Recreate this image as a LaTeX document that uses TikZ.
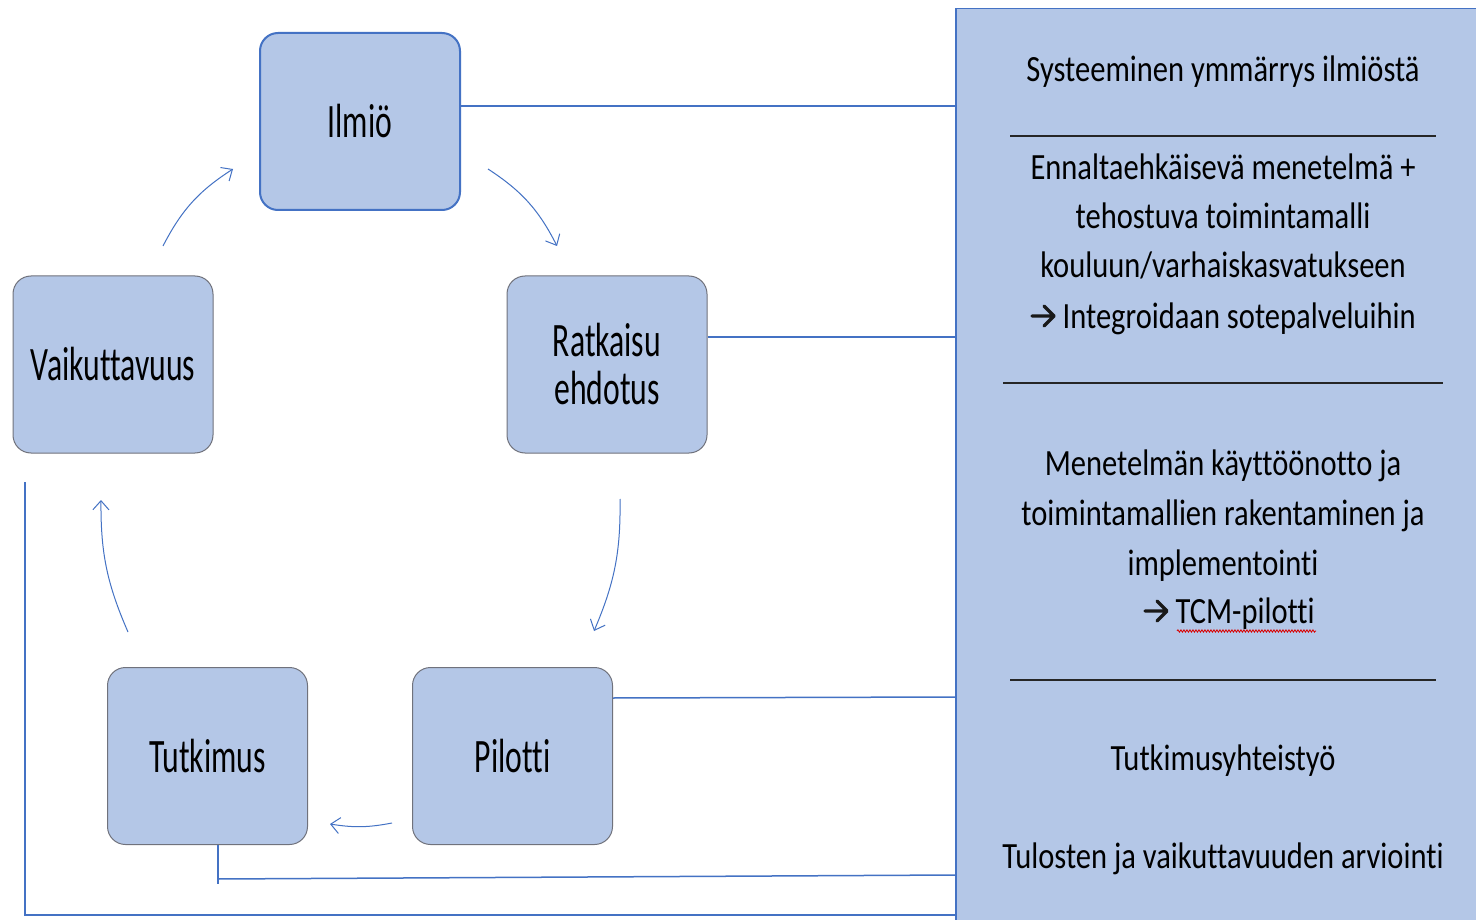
\documentclass[tikz,border=0pt]{standalone}
\usepackage{fontspec}
\setmainfont{Carlito}
\newfontfamily\boxf[FakeStretch=0.66,Ligatures=NoCommon]{Carlito}
\newfontfamily\panelf[FakeStretch=0.825,Ligatures=NoCommon]{Carlito}
\usetikzlibrary{arrows.meta,decorations.pathmorphing}
\definecolor{boxfill}{RGB}{180,199,231}
\definecolor{lineblue}{RGB}{68,114,196}
\definecolor{boxgray}{RGB}{112,114,124}
\tikzset{
  stage/.style={draw=boxgray, line width=1pt, fill=boxfill, rounded corners=18pt,
    minimum width=200pt, minimum height=177pt, inner sep=0pt, align=center,
    font=\boxf\fontsize{48}{48}\selectfont},
  panelbox/.style={draw=lineblue, line width=1.5pt, fill=boxfill, inner sep=0pt,
    minimum width=540pt, minimum height=930pt, anchor=north west},
  ptext/.style={anchor=base, inner sep=0pt, font=\panelf\fontsize{37}{49}\selectfont},
  link/.style={draw=lineblue, line width=1.5pt},
  cyc/.style={draw=lineblue, line width=1pt, -{Straight Barb[length=9pt,width=16pt]}},
  rulestyle/.style={draw=black!85, line width=1.8pt}
}
\newcommand{\bigarrow}{\tikz[x=1pt,y=1pt,baseline=0pt]{\draw[black!90,line width=3.4pt,line cap=round,line join=round]
  (0,12) -- (21,12) (12,22) -- (22,12) -- (12,2);}}
\begin{document}
\begin{tikzpicture}[x=1pt,y=-1pt]
\useasboundingbox (0,0) rectangle (1476,920);
\fill[white] (0,0) rectangle (1476,920);

% right panel
\node[panelbox] (panel) at (955,8) {};

% stage boxes
\node[stage, draw=lineblue, line width=2pt] (ilmio) at (360,121.5) {Ilmiö};
\node[stage] (vaik) at (113,364.5) {Vaikuttavuus};
\node[stage] (ratk) at (607,364.5) {Ratkaisu\\ehdotus};
\node[stage] (tutk) at (207.5,756) {Tutkimus};
\node[stage] (pil) at (512.5,756) {Pilotti};

% connectors to panel
\draw[link] (ilmio.east |- 0,106) -- (panel.west |- 0,106);
\draw[link] (ratk.east |- 0,337) -- (panel.west |- 0,337);
\draw[link] (pil.east |- 0,698) -- (panel.west |- 0,697);
\coordinate (tcorner) at (218,879);
\draw[link] (tutk.south -| tcorner) -- (218,884);
\draw[link] (tcorner) -- (panel.west |- 0,875);
\coordinate (ltop) at (25,482);
\coordinate (lbot) at (25,915);
\draw[link] (ltop) -- (lbot) -- (panel.west |- lbot);

% cycle arrows
\coordinate (a1s) at (163,246); \coordinate (a1e) at (233,169);
\coordinate (a2s) at (488,169); \coordinate (a2e) at (557,246);
\coordinate (a3s) at (620,499); \coordinate (a3e) at (594,631);
\coordinate (a4s) at (392,823); \coordinate (a4e) at (330,824);
\coordinate (a5s) at (128,632); \coordinate (a5e) at (101,500);
\draw[cyc] (a1s) to[bend left=15] (a1e);
\draw[cyc] (a2s) to[bend left=15] (a2e);
\draw[cyc] (a3s) to[bend left=12] (a3e);
\draw[cyc] (a4s) to[bend left=10] (a4e);
\draw[cyc] (a5s) to[bend left=12] (a5e);

% panel text
\node[ptext] (t1) at (1223,82) {Systeeminen ymmärrys ilmiöstä};
\draw[rulestyle] (1010,136) -- (1436,136);
\node[ptext] (t2a) at (1223,180) {Ennaltaehkäisevä menetelmä +};
\node[ptext] (t2b) at (1223,229) {tehostuva toimintamalli};
\node[ptext] (t2c) at (1223,278) {kouluun/varhaiskasvatukseen};
\node[ptext] (t2d) at (1223,328) {\bigarrow\ Integroidaan sotepalveluihin};
\draw[rulestyle] (1003,383) -- (1443,383);
\node[ptext] (t3a) at (1223,475) {Menetelmän käyttöönotto ja};
\node[ptext] (t3b) at (1223,525) {toimintamallien rakentaminen ja};
\node[ptext] (t3c) at (1223,575) {implementointi};
\node[ptext] (t3d) at (1229,623) {\bigarrow\ TCM-pilotti};
\draw[red!85!black, line width=0.8pt, decorate, decoration={snake, amplitude=1.2pt, segment length=3pt}] (1177,631) -- (1316,631);
\draw[rulestyle] (1010,680) -- (1436,680);
\node[ptext] (t4) at (1223,770) {Tutkimusyhteistyö};
\node[ptext] (t5) at (1223,868) {Tulosten ja vaikuttavuuden arviointi};
\end{tikzpicture}
\end{document}
